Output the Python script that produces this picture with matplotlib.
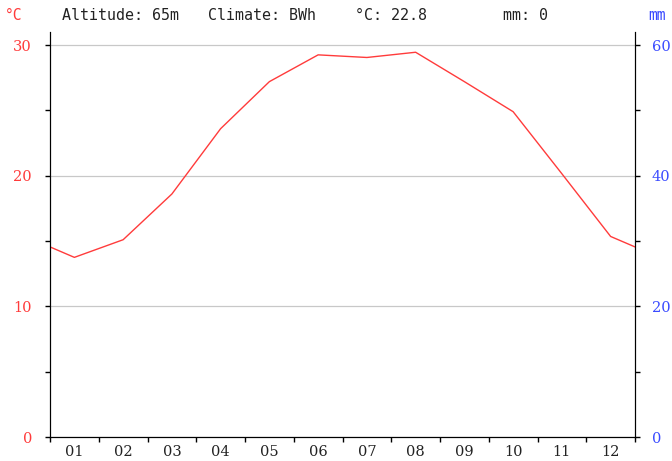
import numpy as np
import matplotlib
matplotlib.use("Agg")
import matplotlib.pyplot as plt
from matplotlib.ticker import FixedLocator, NullFormatter


# ============================================================
# 数据
# ============================================================

months = ["01", "02", "03", "04", "05", "06", "07", "08", "09", "10", "11", "12"]
temp = [13.75, 15.1, 18.6, 23.6, 27.2, 29.25, 29.05, 29.45, 27.2, 24.9, 20.15, 15.35]
edge_temp = 14.55   # 图左右边缘处的值 (12月/1月之间)

altitude = "65m"
climate = "BWh"
mean_temp = "22.8"
total_mm = "0"

RED = "#ff3b3b"
BLUE = "#3a4bff"
TXT = "#222222"

# ============================================================
# 画图
# ============================================================

W, H = 672, 461
fig = plt.figure(figsize=(W / 100, H / 100), dpi=100)
ax = fig.add_axes([50 / W, 1 - 437 / H, 585 / W, 405 / H])

x = np.concatenate([[0], np.arange(len(months)) + 0.5, [len(months)]])
y = np.concatenate([[edge_temp], temp, [edge_temp]])
ax.plot(x, y, color=RED, linewidth=1.0, zorder=3)

ax.set_xlim(0, 12)
ax.set_ylim(0, 31)

TL = 3.6   # 刻度长度 (pt), 约 5 px

# x 轴: 刻度在月份边界, 标签在月份中间
ax.xaxis.set_major_locator(FixedLocator(np.arange(0, 13)))
ax.xaxis.set_major_formatter(NullFormatter())
ax.xaxis.set_minor_locator(FixedLocator(np.arange(12) + 0.5))
ax.set_xticklabels(months, minor=True)
ax.tick_params(axis="x", which="major", direction="out", length=TL, width=1, color="black")
ax.tick_params(axis="x", which="minor", length=0, pad=6, labelsize=10.5, labelcolor=TXT)

# 左轴 °C
ax.yaxis.set_major_locator(FixedLocator([0, 10, 20, 30]))
ax.yaxis.set_minor_locator(FixedLocator([5, 15, 25]))
ax.tick_params(axis="y", which="both", direction="out", length=TL, width=1,
               labelsize=10.5, labelcolor=RED, pad=9.4)
ax.grid(axis="y", which="major", color="#c8c8c8", linewidth=0.9)

for lab in ax.get_xticklabels(minor=True) + ax.get_yticklabels():
    lab.set_family("DejaVu Serif")

# 右轴 mm
ax2 = ax.twinx()
ax2.set_ylim(0, 62)
ax2.yaxis.set_major_locator(FixedLocator([0, 20, 40, 60]))
ax2.yaxis.set_minor_locator(FixedLocator([10, 30, 50]))
ax2.tick_params(axis="y", which="both", direction="out", length=TL, width=1,
                labelsize=10.5, labelcolor=BLUE, pad=8.6)
for lab in ax2.get_yticklabels():
    lab.set_family("DejaVu Serif")

for a in (ax, ax2):
    a.spines["top"].set_visible(False)
    a.spines["left"].set_color("black")
    a.spines["right"].set_color("black")
    a.spines["bottom"].set_color("black")

# 顶部文字
ty = 1 - 15 / H
fig.text(14 / W, ty, "°C", color=RED, fontsize=10.5, family="DejaVu Sans Mono", ha="center", va="center")
fig.text(657 / W, ty, "mm", color=BLUE, fontsize=10.5, family="DejaVu Sans Mono", ha="center", va="center")
mono = dict(color=TXT, fontsize=10.8, family="DejaVu Sans Mono", va="center", ha="left")
fig.text(62 / W, ty, "Altitude: " + altitude, **mono)
fig.text(208 / W, ty, "Climate: " + climate, **mono)
fig.text(355 / W, ty, "°C: " + mean_temp, **mono)
fig.text(503 / W, ty, "mm: " + total_mm, **mono)

fig.savefig("out.png", dpi=100)
